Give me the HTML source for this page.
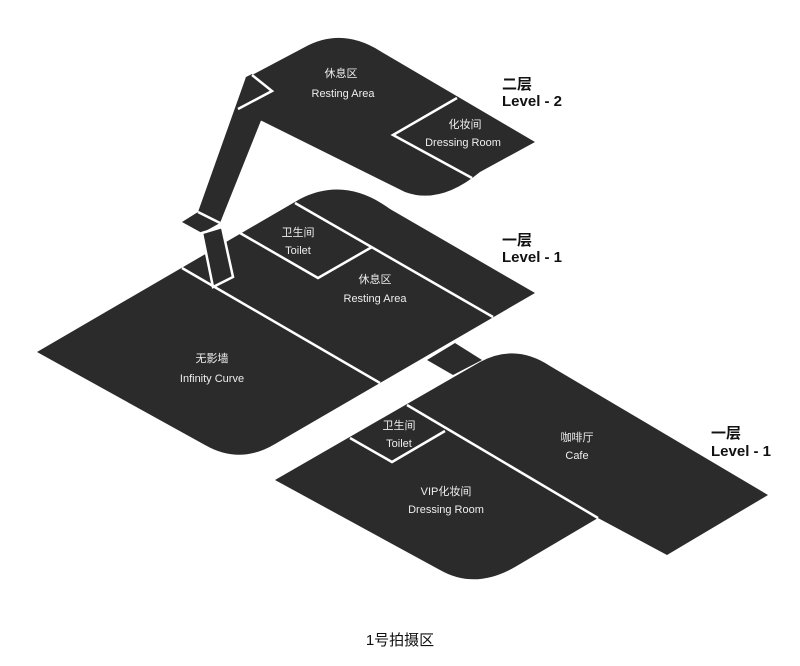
<!DOCTYPE html>
<html><head><meta charset="utf-8"><style>
html,body{margin:0;padding:0;background:#fff;}
svg{display:block;}
text{font-family:"Liberation Sans","Noto Sans CJK SC",sans-serif;}
.l{fill:#eee;font-size:11px;text-anchor:middle;}
.h{fill:#111;font-size:15px;font-weight:bold;}
</style></head><body>
<svg width="800" height="666" viewBox="0 0 800 666">
<g fill="#2b2b2b">
<!-- Level 2 -->
<path d="M252,75 L305,47 Q342,27 380,51 L535,142 L480,172 Q440,205 405,192 L258,119 Z"/>
<!-- notch fill -->
<path d="M246,77 L252,74 L276,91 L262,121 L238,109 Z"/>
<!-- stair upper strip -->
<path d="M246,77 L262,118 L220,223 L198,212 Z"/>
<!-- diamond -->
<path d="M182,222 L198,212 L220,223 L202,233 Z"/>
<!-- Level 1 upper -->
<path d="M37,352 L300,199 Q345,176 390,209 L535,293 L380,383 L275,444 Q240,465 205,445 Z"/>
<!-- connector -->
<path d="M427,360 L455,343 L482,360 L453,375 Z"/>
<!-- Level 1 lower -->
<path d="M275,480 L480,362 Q515,343 550,366 L768,495 L667,555 L598,518 L515,567 Q475,590 440,570 Z"/>
<!-- stair lower strip -->
<path d="M202,233 L222,227 L233,277 L213,287 Z"/>
</g>
<g stroke="#fff" stroke-width="2.5" fill="none" stroke-linejoin="miter">
<polyline points="252,75 272,91 238,109"/>
<polyline points="457,98 393,135 472,178"/>
<line x1="198" y1="212" x2="220" y2="223"/>
<line x1="182" y1="268" x2="380" y2="383"/>
<polyline points="240,233 318,278 372,247"/>
<line x1="295" y1="203" x2="493" y2="317"/>
<path d="M202,233 L222,227 L233,277 L213,287 Z" stroke-width="2.5"/>
<polyline points="350,438 392,462 445,431"/>
<line x1="407" y1="405" x2="598" y2="518"/>
</g>
<text class="l" x="341" y="77">休息区</text>
<text class="l" x="343" y="97">Resting Area</text>
<text class="l" x="465" y="128">化妆间</text>
<text class="l" x="463" y="146">Dressing Room</text>
<text class="h" x="502" y="89">二层</text>
<text class="h" x="502" y="106">Level - 2</text>
<text class="l" x="298" y="236">卫生间</text>
<text class="l" x="298" y="254">Toilet</text>
<text class="l" x="375" y="283">休息区</text>
<text class="l" x="375" y="302">Resting Area</text>
<text class="h" x="502" y="245">一层</text>
<text class="h" x="502" y="262">Level - 1</text>
<text class="l" x="212" y="362">无影墙</text>
<text class="l" x="212" y="382">Infinity Curve</text>
<text class="l" x="399" y="429">卫生间</text>
<text class="l" x="399" y="447">Toilet</text>
<text class="l" x="577" y="441">咖啡厅</text>
<text class="l" x="577" y="459">Cafe</text>
<text class="l" x="446" y="495">VIP化妆间</text>
<text class="l" x="446" y="513">Dressing Room</text>
<text class="h" x="711" y="438">一层</text>
<text class="h" x="711" y="456">Level - 1</text>
<text x="400" y="645" style="fill:#111;font-size:15px;text-anchor:middle;">1号拍摄区</text>
</svg>
</body></html>
